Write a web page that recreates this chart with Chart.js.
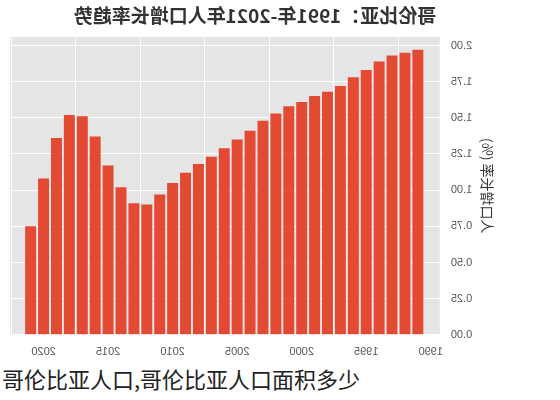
<!DOCTYPE html>
<html><head><meta charset="utf-8">
<script src="https://cdn.jsdelivr.net/npm/chart.js@4"></script>
<style>
body{margin:0;background:#fff;width:560px;height:400px;overflow:hidden;font-family:"Noto Sans CJK SC",sans-serif}
#wrap{position:absolute;left:0;top:0;width:500px;height:362px;transform:scaleX(-1)}
#cap{position:absolute;left:2px;top:362px;font-size:22px;color:#222;white-space:nowrap}
</style></head><body>
<div id="wrap"><canvas id="c" width="500" height="362"></canvas></div>
<div id="cap">哥伦比亚人口,哥伦比亚人口面积多少</div>
<script>
// 1991 -> 2021
const years = [1991,1992,1993,1994,1995,1996,1997,1998,1999,2000,2001,2002,2003,2004,2005,2006,2007,2008,2009,2010,2011,2012,2013,2014,2015,2016,2017,2018,2019,2020,2021];
const growth = [1.97,1.95,1.93,1.89,1.83,1.78,1.72,1.68,1.65,1.61,1.58,1.53,1.48,1.41,1.35,1.29,1.23,1.18,1.12,1.05,0.97,0.90,0.91,1.02,1.17,1.37,1.51,1.52,1.36,1.08,0.75];
const yTicks = [0,0.25,0.5,0.75,1,1.25,1.5,1.75,2];

const chart = new Chart(document.getElementById('c'), {
  type: 'bar',
  data: {
    datasets: [{
      data: years.map((y, i) => ({x: y, y: growth[i]})),
      backgroundColor: '#e24a33',
      barPercentage: 0.85, categoryPercentage: 1
    }]
  },
  options: {
    responsive: false, maintainAspectRatio: false, animation: false,
    devicePixelRatio: 1,
    layout: {padding: {right: 10, top: 4}},
    plugins: {
      legend: {display: false},
      title: {display: true, text: '哥伦比亚：1991年-2021年人口增长率趋势',
        font: {size: 19, weight: 'bold', family: 'Noto Sans CJK SC'}, color: '#333', padding: {bottom: 10}}
    },
    scales: {
      x: {type: 'linear', min: 1989.3, max: 2022.6, offset: false,
        grid: {color: '#fff', lineWidth: 1}, border: {display: false},
        afterBuildTicks: a => { a.ticks = [1990,1995,2000,2005,2010,2015,2020].map(v => ({value: v})); },
        ticks: {color: '#555', font: {size: 11}, callback: v => v}},
      y: {min: 0, max: 2.06,
        grid: {color: '#fff', lineWidth: 1}, border: {display: false},
        afterBuildTicks: a => { a.ticks = yTicks.map(v => ({value: v})); },
        ticks: {color: '#555', font: {size: 11}, callback: v => v.toFixed(2)},
        title: {display: true, text: '人口增长率 (%)', color: '#333', font: {size: 14, family: 'Noto Sans CJK SC'}}}
    }
  },
  plugins: [{id: 'bg', beforeDraw: c => {
    const a = c.chartArea, x = c.ctx;
    x.save(); x.fillStyle = '#e5e5e5'; x.fillRect(a.left, a.top, a.width, a.height); x.restore();
  }}]
});
</script>
</body></html>
